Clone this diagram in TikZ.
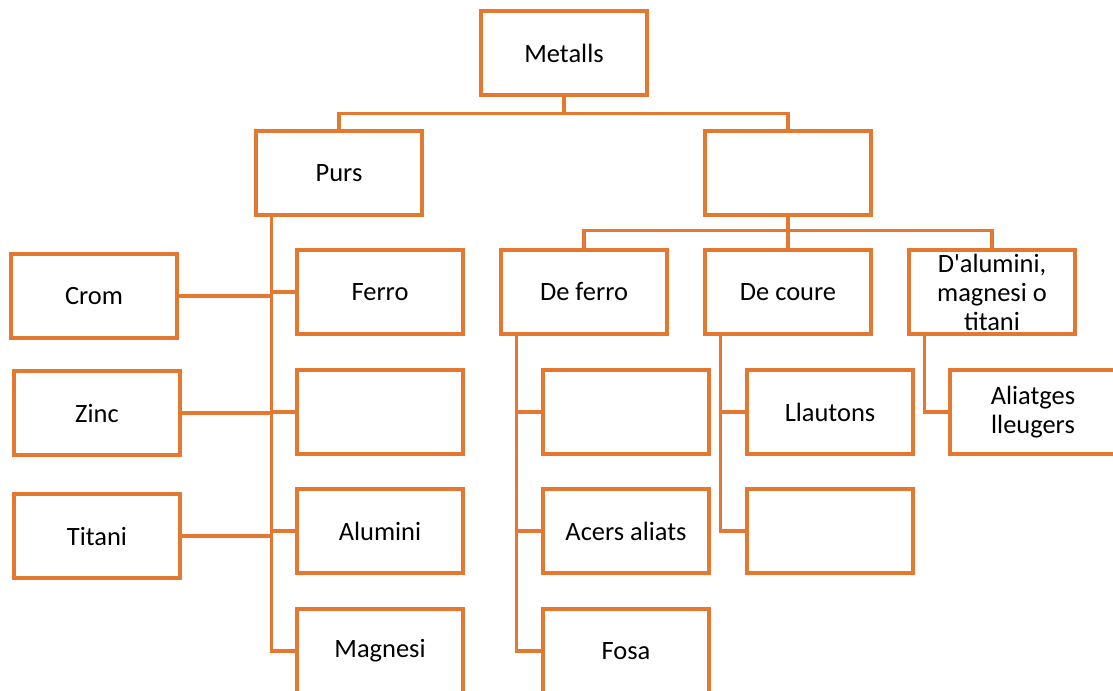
\documentclass[tikz,border=0pt]{standalone}
\usepackage{fontspec}
\setmainfont{Carlito}
\usetikzlibrary{positioning}
\definecolor{taronja}{RGB}{228,120,48}
\begin{document}
\begin{tikzpicture}[x=0.025cm,y=-0.025cm,
    caixa/.style={draw=taronja,line width=2.3pt,minimum width=4.15cm,minimum height=2.1cm,
      align=center,inner sep=2pt,font=\fontsize{18.8}{20.6}\selectfont},
    lnk/.style={draw=taronja,line width=2.2pt}]
      % Frame
      \useasboundingbox (0,0) rectangle (1113,691);
      \clip (0,0) rectangle (1113,691);

      % First levels
      \node[caixa] (metalls) at (564,53) {Metalls};
      \node[caixa] (purs) at (339,173) {Purs};
      \node[caixa] (aliat) at (788,173) {};
      \draw[lnk] (metalls.south) -- ++(0,17) coordinate (mt);
      \draw[lnk] (mt) -| (purs.north);
      \draw[lnk] (mt) -| (aliat.north);

      % Pure metals
      \node[caixa] (crom) at (94,296) {Crom};
      \node[caixa] (zinc) at (97,413) {Zinc};
      \node[caixa] (titani) at (97,536) {Titani};
      \node[caixa] (ferro) at (380,292) {Ferro};
      \node[caixa] (buit1) at (380,412) {};
      \node[caixa] (alumini) at (380,531) {Alumini};
      \node[caixa] (magnesi) at (380,651) {Magnesi};
      \draw[lnk] (purs.south west) ++(17,0) coordinate (pv) -- (pv |- magnesi.west) -- (magnesi.west);
      \foreach \n in {crom,zinc,titani}
        \draw[lnk] (\n.east) -- (pv |- \n.east);
      \foreach \n in {ferro,buit1,alumini}
        \draw[lnk] (pv |- \n.west) -- (\n.west);

      % Alloys
      \node[caixa] (deferro) at (584,292) {De ferro};
      \node[caixa] (decoure) at (788,292) {De coure};
      \node[caixa] (dalum) at (992,292) {D\textquotesingle alumini,\\magnesi o\\titani};
      \draw[lnk] (aliat.south) -- (decoure.north);
      \draw[lnk] (deferro.north) -- ++(0,-18) -| (dalum.north);

      % Iron alloys
      \node[caixa] (buit2) at (626,412) {};
      \node[caixa] (acers) at (626,531) {Acers aliats};
      \node[caixa] (fosa) at (626,651) {Fosa};
      \draw[lnk] (deferro.south west) ++(17,0) coordinate (fv) -- (fv |- fosa.west) -- (fosa.west);
      \foreach \n in {buit2,acers}
        \draw[lnk] (fv |- \n.west) -- (\n.west);

      % Copper alloys
      \node[caixa] (llautons) at (830,412) {Llautons};
      \node[caixa] (buit3) at (830,531) {};
      \draw[lnk] (decoure.south west) ++(17,0) coordinate (cv) -- (cv |- buit3.west) -- (buit3.west);
      \draw[lnk] (cv |- llautons.west) -- (llautons.west);

      % Light alloys
      \node[caixa] (lleugers) at (1033,412) {Aliatges\\lleugers};
      \draw[lnk] (dalum.south west) ++(17,0) coordinate (av) -- (av |- lleugers.west) -- (lleugers.west);
\end{tikzpicture}
\end{document}
